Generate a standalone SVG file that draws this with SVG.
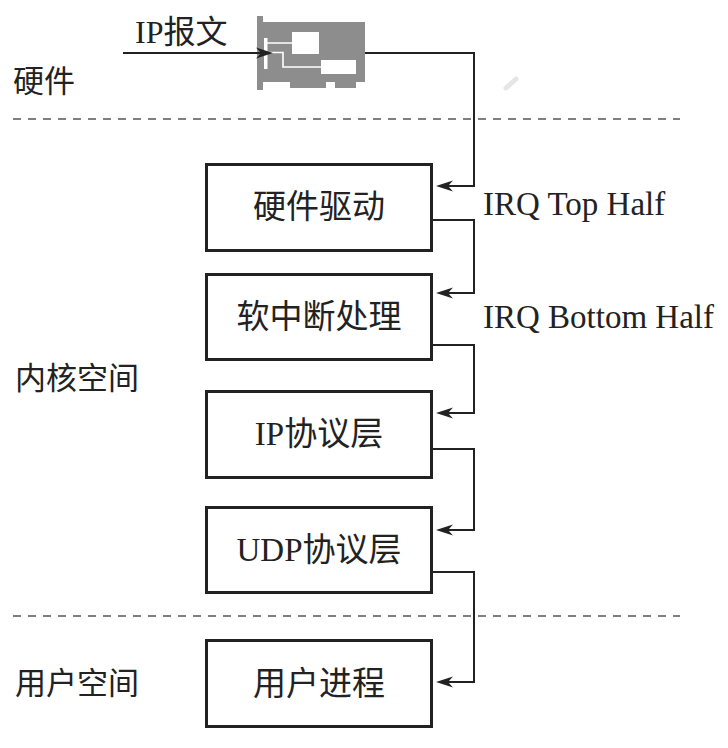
<svg xmlns="http://www.w3.org/2000/svg" width="728" height="748" viewBox="0 0 728 748">
<defs>
<style>
.box{fill:#fff;stroke:#222;stroke-width:3}
.btxt{font-family:"Liberation Serif","Noto Sans CJK SC",serif;font-size:33px;fill:#222;text-anchor:middle}
.side{font-family:"Noto Sans CJK SC",sans-serif;font-size:31px;fill:#222}
.lbl{font-family:"Liberation Serif","Noto Sans CJK SC",serif;font-size:33px;fill:#222}
.dash{stroke:#555;stroke-width:1.6;stroke-dasharray:8 7;fill:none}
.conn{fill:none;stroke:#222;stroke-width:2}
</style>
<marker id="ah" markerUnits="userSpaceOnUse" markerWidth="20" markerHeight="12" viewBox="-18 -6 20 12" refX="-8" refY="0" orient="auto">
<path d="M0,0 L-17,-5.5 L-12,0 L-17,5.5 Z" fill="#222"/>
</marker>
</defs>
<rect width="728" height="748" fill="#fff"/>

<g id="separators">
<line class="dash" x1="13" y1="119" x2="680" y2="119"/>
<line class="dash" x1="13" y1="616" x2="680" y2="616"/>
</g>

<g id="region-labels">
<text class="side" x="13" y="92">硬件</text>
<text class="side" x="15" y="389">内核空间</text>
<text class="side" x="15" y="694">用户空间</text>
</g>

<g id="nic">
<rect x="257" y="16" width="6" height="74" fill="#8d8d8d"/>
<path d="M263,22 H365 V82 H356 V88 H335 V82 H326 V88 H290 V82 H263 Z" fill="#8d8d8d"/>
<rect x="264" y="38" width="3.5" height="31" fill="#fff"/>
<rect x="292" y="32" width="27" height="22" fill="#fff"/>
<rect x="321" y="60" width="35" height="14" fill="#fff"/>
<path d="M267,43 H292 M267,52.5 H283 V67 H321" fill="none" stroke="#fff" stroke-width="1.6"/>
</g>

<g id="n1"><rect class="box" x="206.5" y="164.5" width="225" height="86"/><text class="btxt" x="319" y="218">硬件驱动</text></g>
<g id="n2"><rect class="box" x="206.5" y="274.5" width="225" height="85"/><text class="btxt" x="319" y="328">软中断处理</text></g>
<g id="n3"><rect class="box" x="206.5" y="391.5" width="225" height="86"/><text class="btxt" x="319" y="445">IP协议层</text></g>
<g id="n4"><rect class="box" x="206.5" y="507.5" width="225" height="85"/><text class="btxt" x="319" y="561">UDP协议层</text></g>
<g id="n5"><rect class="box" x="206.5" y="640.5" width="225" height="86"/><text class="btxt" x="319" y="695">用户进程</text></g>

<g id="connectors">
<path class="conn" d="M123,53 H265" marker-end="url(#ah)"/>
<path class="conn" d="M365,53 H474 V186 H444" marker-end="url(#ah)"/>
<path class="conn" d="M433,220 H474 V293 H444" marker-end="url(#ah)"/>
<path class="conn" d="M433,345 H474 V413 H444" marker-end="url(#ah)"/>
<path class="conn" d="M433,449 H474 V530 H444" marker-end="url(#ah)"/>
<path class="conn" d="M433,572 H474 V682 H444" marker-end="url(#ah)"/>
</g>

<g id="labels">
<text class="lbl" x="135" y="43" style="font-size:32px">IP报文</text>
<text class="lbl" x="483" y="215">IRQ Top Half</text>
<text class="lbl" x="483" y="328">IRQ Bottom Half</text>
</g>

<line x1="506" y1="88" x2="516" y2="79" stroke="#e6e6e6" stroke-width="5" stroke-linecap="round"/>
</svg>
